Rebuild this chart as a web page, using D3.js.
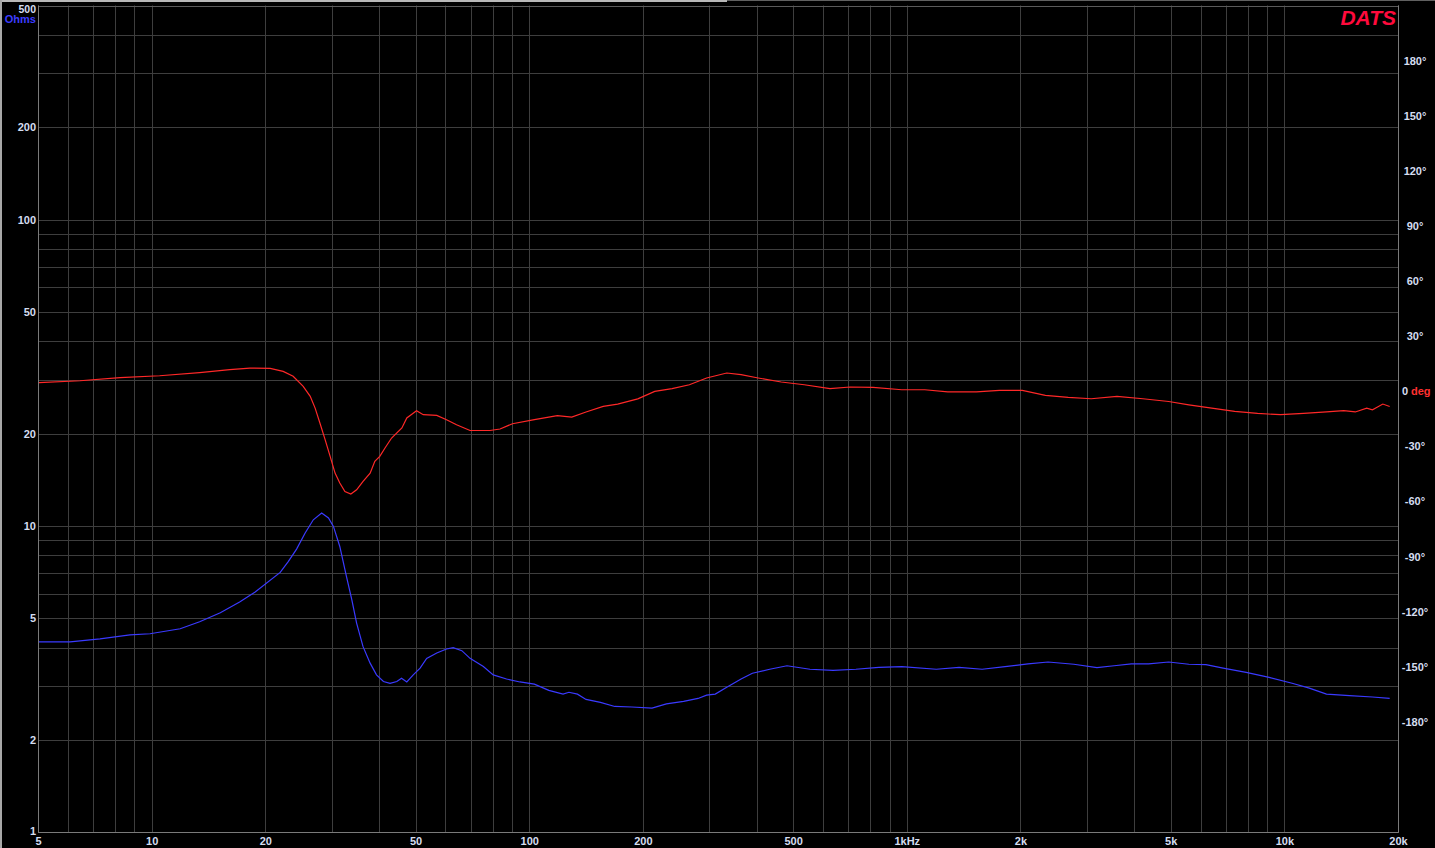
<!DOCTYPE html>
<html><head><meta charset="utf-8">
<script src="https://cdn.jsdelivr.net/npm/d3@7/dist/d3.min.js"></script>
<style>
html,body{margin:0;padding:0;background:#000;overflow:hidden}
svg{display:block}
.tick text{font-family:"Liberation Sans",Arial,sans-serif;font-weight:bold;font-size:11px;fill:#d4ddf0}
</style></head>
<body>
<script>
// ---- data ----
const impFreq = [5,6.08,7.3,8.76,9.9,11.9,13.4,15.2,17.1,18.8,21.9,23.0,24.2,25.5,26.8,28.2,29.4,30.3,31.5,32.8,33.9,34.9,36.3,37.9,39.4,41.1,42.8,44.6,45.9,47.4,49.3,51.4,53.5,56.9,60.4,62.9,66.3,69.7,75.6,80.3,87.1,94.5,103.2,112.7,122.9,127.4,134.2,141.4,154.4,168.5,187.1,211.5,230.9,256.4,280,295,311,333.6,364,390,433.5,481.6,554,637.7,733,843,970,1197,1376,1583,1821,2095,2367,2770,3189,3541,3935,4370,4940,5585,6200,6886,7924,9115,10485,11645,12930,14875,17115,19010];
const impOhms = [4.18,4.18,4.27,4.40,4.44,4.61,4.86,5.20,5.64,6.08,7.04,7.64,8.39,9.47,10.46,11.0,10.6,9.95,8.56,6.83,5.73,4.81,4.03,3.56,3.26,3.10,3.06,3.10,3.18,3.09,3.26,3.43,3.69,3.84,3.96,4.00,3.91,3.69,3.47,3.26,3.16,3.09,3.04,2.90,2.82,2.86,2.82,2.71,2.65,2.57,2.56,2.54,2.62,2.67,2.73,2.80,2.82,2.97,3.16,3.30,3.40,3.49,3.40,3.37,3.40,3.45,3.47,3.40,3.45,3.40,3.47,3.54,3.59,3.53,3.44,3.49,3.54,3.54,3.59,3.53,3.52,3.43,3.32,3.20,3.06,2.95,2.82,2.79,2.76,2.73];

const phaseFreq = [5,6.46,8.25,10.5,13.4,16.1,18.2,20.6,22.3,23.7,25.2,26.3,27.1,27.9,28.8,29.7,30.6,31.5,32.5,33.7,34.9,36.3,37.9,39.0,40.2,41.5,43.2,46.0,47.4,50.3,52.4,56.9,60.4,64.2,69.7,78.7,83.7,90.3,103.2,118.7,129.6,141.4,157,171.5,193.9,215,239,265.6,295,333.6,364,404,465,535,626,708,814,970,1116,1284,1529,1759,2023,2328,2677,3080,3604,4219,4940,5585,6421,7386,8494,9776,11246,12930,14366,15415,16525,17115,18232,19010];
const phaseDeg = [4.6,5.7,7.4,8.4,10.1,11.7,12.6,12.4,10.8,8.1,2.6,-2.8,-9.2,-17.3,-26.4,-35.5,-44.6,-50.0,-54.6,-56.0,-53.7,-49.1,-44.6,-38.2,-35.5,-30.9,-25.5,-20.0,-14.6,-10.6,-12.8,-13.2,-15.5,-18.3,-21.4,-21.4,-20.6,-17.7,-15.5,-13.3,-14.1,-11.3,-8.3,-7.0,-4.2,-0.1,1.4,3.5,7.2,9.9,9.0,7.2,5.0,3.5,1.4,2.3,2.1,0.8,0.8,-0.4,-0.4,0.4,0.4,-2.3,-3.4,-4.1,-2.8,-4.1,-5.6,-7.4,-9.2,-11.0,-12.1,-12.8,-12.1,-11.3,-10.6,-11.3,-9.2,-10.1,-7.0,-8.3];

const freqTicks = [5,10,20,50,100,200,500,1000,2000,5000,10000,20000];
const freqTickLabels = ["5","10","20","50","100","200","500","1kHz","2k","5k","10k","20k"];
const ohmTicks = [1,2,5,10,20,50,100,200];
const ohmTickLabels = ["1","2","5","10","20","50","100","200"];
const degTicks = [180,150,120,90,60,30,-30,-60,-90,-120,-150,-180];

// ---- layout ----
const W = 1435, H = 848;
const L = 38, R = 1398, T = 5.5, B = 832;

const svg = d3.select("body").append("svg").attr("width", W).attr("height", H);
svg.append("rect").attr("width", W).attr("height", H).attr("fill", "#000");
// window frame
svg.append("rect").attr("x",0).attr("y",0).attr("width",727).attr("height",2).attr("fill","#b8b8b8");
svg.append("rect").attr("x",727).attr("y",0).attr("width",W-727).attr("height",1).attr("fill","#606060");
svg.append("rect").attr("x",0).attr("y",0).attr("width",2).attr("height",H).attr("fill","#a8a8a8");

const x = d3.scaleLog().domain([5,20000]).range([L,R]);
const yZ = d3.scaleLog().domain([1,500]).range([B,T]);
const yP = d3.scaleLinear().domain([-240,210]).range([B,T]);

// grid values (1-2-3...9 per decade)
const vVals = [];
[1,10,100,1000,10000].forEach(dec=>{ for(let m=1;m<=9;m++){ const v=m*dec; if(v>=5 && v<=20000) vVals.push(v);} });
vVals.push(20000);
const hVals = [];
[1,10,100].forEach(dec=>{ for(let m=1;m<=9;m++){ const v=m*dec; if(v<=500) hVals.push(v);} });

const g = svg.append("g");
g.selectAll("line.v").data(vVals).enter().append("line")
  .attr("x1", d=>Math.round(x(d))+0.5).attr("x2", d=>Math.round(x(d))+0.5)
  .attr("y1", T).attr("y2", B).attr("stroke", "#3e3e3e").attr("stroke-width",1);
g.selectAll("line.h").data(hVals).enter().append("line")
  .attr("y1", d=>Math.round(yZ(d))+0.5).attr("y2", d=>Math.round(yZ(d))+0.5)
  .attr("x1", L).attr("x2", R).attr("stroke", "#3e3e3e").attr("stroke-width",1);
// frame
svg.append("rect").attr("x", L+0.5).attr("y", Math.round(T)+0.5).attr("width", R-L).attr("height", B-Math.round(T))
  .attr("fill","none").attr("stroke","#5a5a5a");
svg.append("line").attr("x1",L+0.5).attr("x2",L+0.5).attr("y1",T).attr("y2",B+0.5).attr("stroke","#7a7a7a");
svg.append("line").attr("x1",L).attr("x2",R+0.5).attr("y1",B+0.5).attr("y2",B+0.5).attr("stroke","#7a7a7a");
svg.append("line").attr("x1",R+0.5).attr("x2",R+0.5).attr("y1",T).attr("y2",B+0.5).attr("stroke","#7a7a7a");

// clip
svg.append("clipPath").attr("id","clip").append("rect").attr("x",L+1).attr("y",T+1).attr("width",R-L-1).attr("height",B-T-1);

// curves
const lineZ = d3.line().x((d,i)=>x(impFreq[i])).y(d=>yZ(d));
const lineP = d3.line().x((d,i)=>x(phaseFreq[i])).y(d=>yP(d));
const curves = svg.append("g").attr("clip-path","url(#clip)");
curves.append("path").datum(phaseDeg).attr("d", lineP).attr("fill","none")
  .attr("stroke","#ff2828").attr("stroke-width",1.2);
curves.append("path").datum(impOhms).attr("d", lineZ).attr("fill","none")
  .attr("stroke","#3a3aff").attr("stroke-width",1.2);

// axes
const fmtMap = (vals, labels) => d => labels[vals.indexOf(d)];
const xAxis = d3.axisBottom(x).tickValues(freqTicks).tickFormat(fmtMap(freqTicks,freqTickLabels)).tickSize(0).tickPadding(0);
const ax = svg.append("g").attr("transform",`translate(0,${B+4})`).call(xAxis);
ax.select(".domain").remove();
ax.selectAll("text").attr("dy","0.71em").attr("y",1);

const yAxis = d3.axisLeft(yZ).tickValues(ohmTicks).tickFormat(fmtMap(ohmTicks,ohmTickLabels)).tickSize(0).tickPadding(0);
const ay = svg.append("g").attr("transform",`translate(${L-2},0)`).call(yAxis);
ay.select(".domain").remove();
ay.selectAll(".tick").filter(d=>d===1).select("text").attr("dy","0.2em");

const pAxis = d3.axisRight(yP).tickValues(degTicks).tickFormat(d=>d+"°").tickSize(0).tickPadding(0);
const ap = svg.append("g").attr("transform",`translate(1415,0)`).call(pAxis);
ap.select(".domain").remove();
ap.selectAll("text").attr("text-anchor","middle");

const lblFont = '"Liberation Sans",Arial,sans-serif';
// top labels
svg.append("text").attr("x",L-2).attr("y",13).attr("text-anchor","end")
  .attr("font-family",lblFont).attr("font-weight","bold").attr("font-size",10.5).attr("fill","#d4ddf0").text("500");
svg.append("text").attr("x",L-2).attr("y",22.5).attr("text-anchor","end")
  .attr("font-family",lblFont).attr("font-weight","bold").attr("font-size",11).attr("fill","#3c3cff").text("Ohms");
// 0 deg
const zeroY = yP(0);
svg.append("text").attr("x",1402).attr("y",zeroY).attr("dy","0.35em")
  .attr("font-family",lblFont).attr("font-weight","bold").attr("font-size",11).attr("fill","#d4ddf0").text("0");
svg.append("text").attr("x",1411).attr("y",zeroY).attr("dy","0.35em")
  .attr("font-family",lblFont).attr("font-weight","bold").attr("font-size",11).attr("fill","#ff3030").text("deg");
// DATS
svg.append("text").attr("x",1396).attr("y",25).attr("text-anchor","end")
  .attr("font-family",lblFont).attr("font-weight","bold").attr("font-style","italic").attr("font-size",21)
  .attr("fill","#ff0a3c").text("DATS");
</script>
</body></html>
